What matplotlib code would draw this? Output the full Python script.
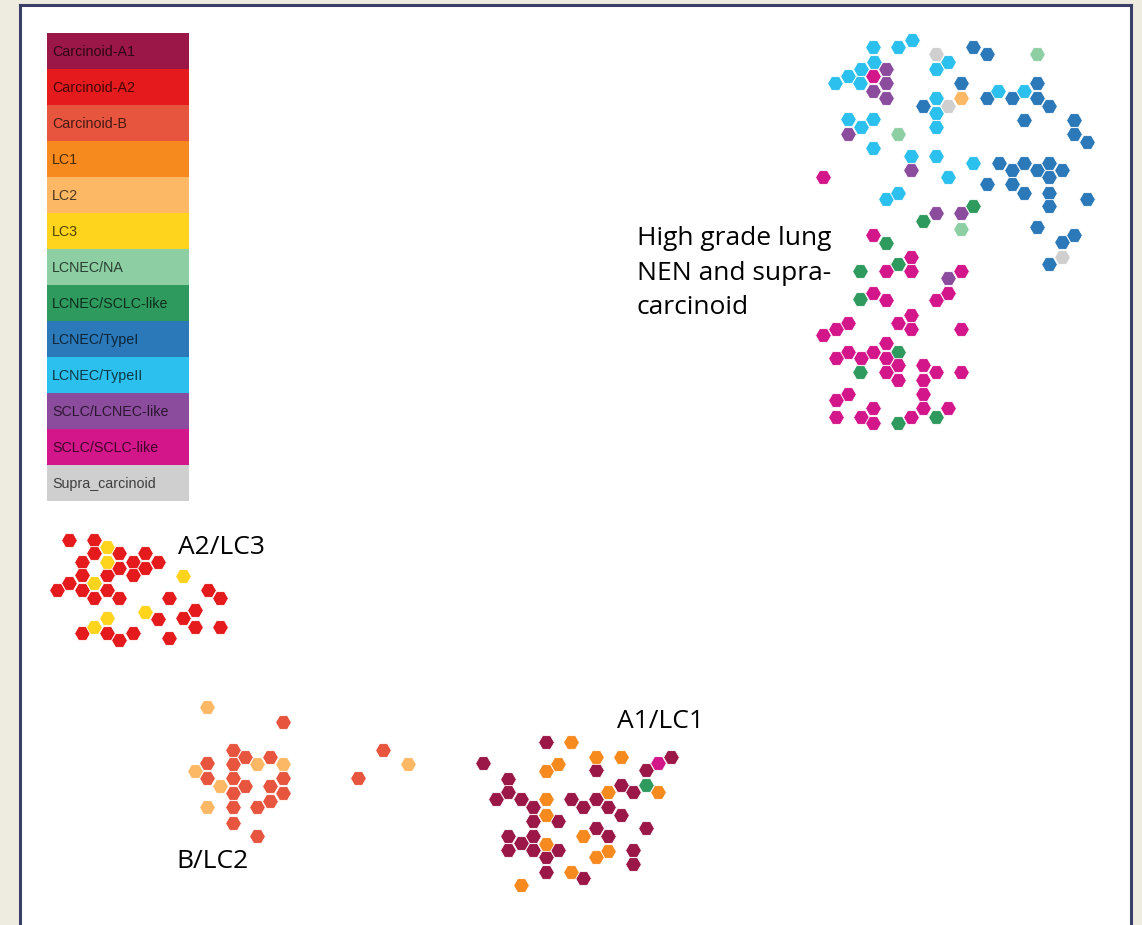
import matplotlib
matplotlib.use("Agg")
import matplotlib.pyplot as plt
from matplotlib.patches import Rectangle

W, H = 1142, 925

categories = ["Carcinoid-A1", "Carcinoid-A2", "Carcinoid-B", "LC1", "LC2", "LC3",
              "LCNEC/NA", "LCNEC/SCLC-like", "LCNEC/TypeI", "LCNEC/TypeII",
              "SCLC/LCNEC-like", "SCLC/SCLC-like", "Supra_carcinoid"]
colors = ["#9a1747", "#e41a1c", "#e8553f", "#f68a1e", "#fdb865", "#fed41c",
          "#8dcfa3", "#2f9a5e", "#2b79b8", "#2cc0ee", "#8c4c9e", "#d4168b", "#cfcfcf"]

carcinoid_a1 = [(546, 742), (483, 763), (671, 757), (646, 770), (596, 770), (508, 779),
                (508, 792), (496, 799), (521, 799), (533, 807), (533, 821), (558, 821),
                (571, 799), (583, 807), (596, 799), (608, 807), (621, 785), (633, 792),
                (621, 815), (596, 828), (608, 836), (646, 828), (508, 836), (533, 836),
                (521, 843), (508, 850), (533, 850), (558, 850), (546, 857), (546, 872),
                (583, 878), (633, 850), (633, 864)]
carcinoid_a2 = [(69, 540), (94, 540), (94, 553), (82, 562), (119, 553), (145, 553),
                (133, 562), (158, 562), (119, 568), (145, 568), (82, 575), (107, 575),
                (133, 575), (69, 583), (57, 590), (82, 590), (107, 590), (94, 598),
                (119, 598), (169, 598), (208, 590), (220, 598), (195, 610), (183, 618),
                (195, 627), (220, 627), (158, 619), (82, 633), (107, 633), (119, 640),
                (133, 633), (169, 638)]
carcinoid_b = [(283, 722), (233, 750), (245, 757), (270, 757), (207, 763), (233, 764),
               (207, 778), (233, 778), (283, 778), (245, 786), (270, 786), (233, 793),
               (283, 793), (270, 801), (233, 807), (257, 807), (233, 823), (257, 836),
               (383, 750), (358, 778)]
lc1 = [(571, 742), (596, 757), (621, 757), (558, 764), (546, 771), (546, 799),
       (546, 815), (608, 792), (658, 792), (583, 836), (546, 844), (608, 851),
       (596, 857), (571, 872), (521, 885)]
lc2 = [(207, 707), (257, 764), (283, 764), (195, 771), (220, 786), (207, 807),
       (408, 764), (961, 98)]
lc3 = [(107, 547), (107, 562), (94, 583), (183, 576), (145, 612), (107, 618), (94, 627)]
lcnec_na = [(1037, 54), (898, 134), (961, 229)]
lcnec_sclc_like = [(973, 206), (923, 221), (886, 243), (898, 264), (860, 271), (860, 299),
                   (898, 352), (860, 372), (898, 423), (936, 417), (646, 785)]
lcnec_type1 = [(973, 47), (987, 54), (961, 83), (923, 106), (1037, 83), (987, 98),
               (1012, 98), (1037, 98), (1049, 106), (1024, 120), (1074, 120), (1074, 134),
               (1087, 142), (999, 163), (1012, 170), (1024, 163), (1037, 170), (1049, 163),
               (1062, 170), (1049, 177), (987, 184), (1012, 184), (1024, 193), (1049, 193),
               (1049, 206), (1087, 199), (1037, 227), (1062, 242), (1074, 235), (1049, 264)]
lcnec_type2 = [(873, 47), (898, 47), (912, 40), (874, 62), (861, 69), (848, 76),
               (835, 83), (860, 83), (948, 62), (936, 69), (936, 98), (936, 113),
               (936, 127), (998, 91), (1024, 91), (848, 119), (861, 127), (873, 119),
               (873, 148), (911, 156), (936, 156), (973, 163), (948, 177), (886, 199),
               (898, 193)]
sclc_lcnec_like = [(886, 69), (886, 83), (873, 91), (886, 98), (848, 134), (911, 170),
                   (936, 213), (961, 213), (948, 278)]
sclc_sclc_like = [(873, 76), (823, 177), (873, 235), (911, 257), (886, 271), (911, 271),
                  (961, 271), (873, 293), (886, 300), (948, 293), (936, 300), (911, 315),
                  (898, 323), (911, 329), (961, 329), (848, 323), (836, 329), (823, 335),
                  (886, 343), (873, 352), (848, 352), (836, 358), (861, 358), (886, 358),
                  (886, 372), (898, 365), (898, 380), (923, 365), (936, 372), (923, 380),
                  (961, 372), (923, 394), (923, 408), (911, 417), (948, 408), (848, 394),
                  (836, 400), (836, 417), (861, 417), (873, 408), (873, 423), (658, 763)]
supra_carcinoid = [(936, 54), (948, 106), (1062, 257)]

series = [carcinoid_a1, carcinoid_a2, carcinoid_b, lc1, lc2, lc3, lcnec_na,
          lcnec_sclc_like, lcnec_type1, lcnec_type2, sclc_lcnec_like, sclc_sclc_like,
          supra_carcinoid]

cluster_labels = ["High grade lung\nNEN and supra-\ncarcinoid", "A2/LC3", "A1/LC1", "B/LC2"]

fig = plt.figure(figsize=(W / 100, H / 100), dpi=100, facecolor="#eeebe0")
left, right, top, bottom = 20, 1131, 5, 940
ax = fig.add_axes([left / W, 1 - bottom / H, (right - left) / W, (bottom - top) / H])
ax.set_facecolor("white")
ax.set_xlim(left, right)
ax.set_ylim(bottom, top)
ax.set_xticks([])
ax.set_yticks([])
for s in ax.spines.values():
    s.set_color("#3b3f68")
    s.set_linewidth(2.2)

for pts, col in zip(series, colors):
    xs = [p[0] for p in pts]
    ys = [p[1] for p in pts]
    ax.scatter(xs, ys, s=130, marker="H", c=col, edgecolors="white", linewidths=0.6, zorder=3)

# legend blocks
lx0, lx1, ly0, row_h = 47, 189, 33, 36
for i, (cat, col) in enumerate(zip(categories, colors)):
    y = ly0 + i * row_h
    ax.add_patch(Rectangle((lx0, y), lx1 - lx0, row_h, facecolor=col, edgecolor="none", zorder=2))
    ax.text(lx0 + 5, y + row_h / 2 + 1, cat, fontsize=10.3, family="Liberation Sans",
            color="black", alpha=0.7, va="center", ha="left", zorder=4)

txt_kw = dict(fontsize=19, family="Open Sans", color="black", zorder=5)
ax.text(637, 226, cluster_labels[0], va="top", ha="left", linespacing=1.5, **txt_kw)
ax.text(178, 554, cluster_labels[1], va="baseline", ha="left", **txt_kw)
ax.text(617, 728, cluster_labels[2], va="baseline", ha="left", **txt_kw)
ax.text(176, 868, cluster_labels[3], va="baseline", ha="left", **txt_kw)

fig.savefig("out.png", dpi=100, facecolor=fig.get_facecolor())
